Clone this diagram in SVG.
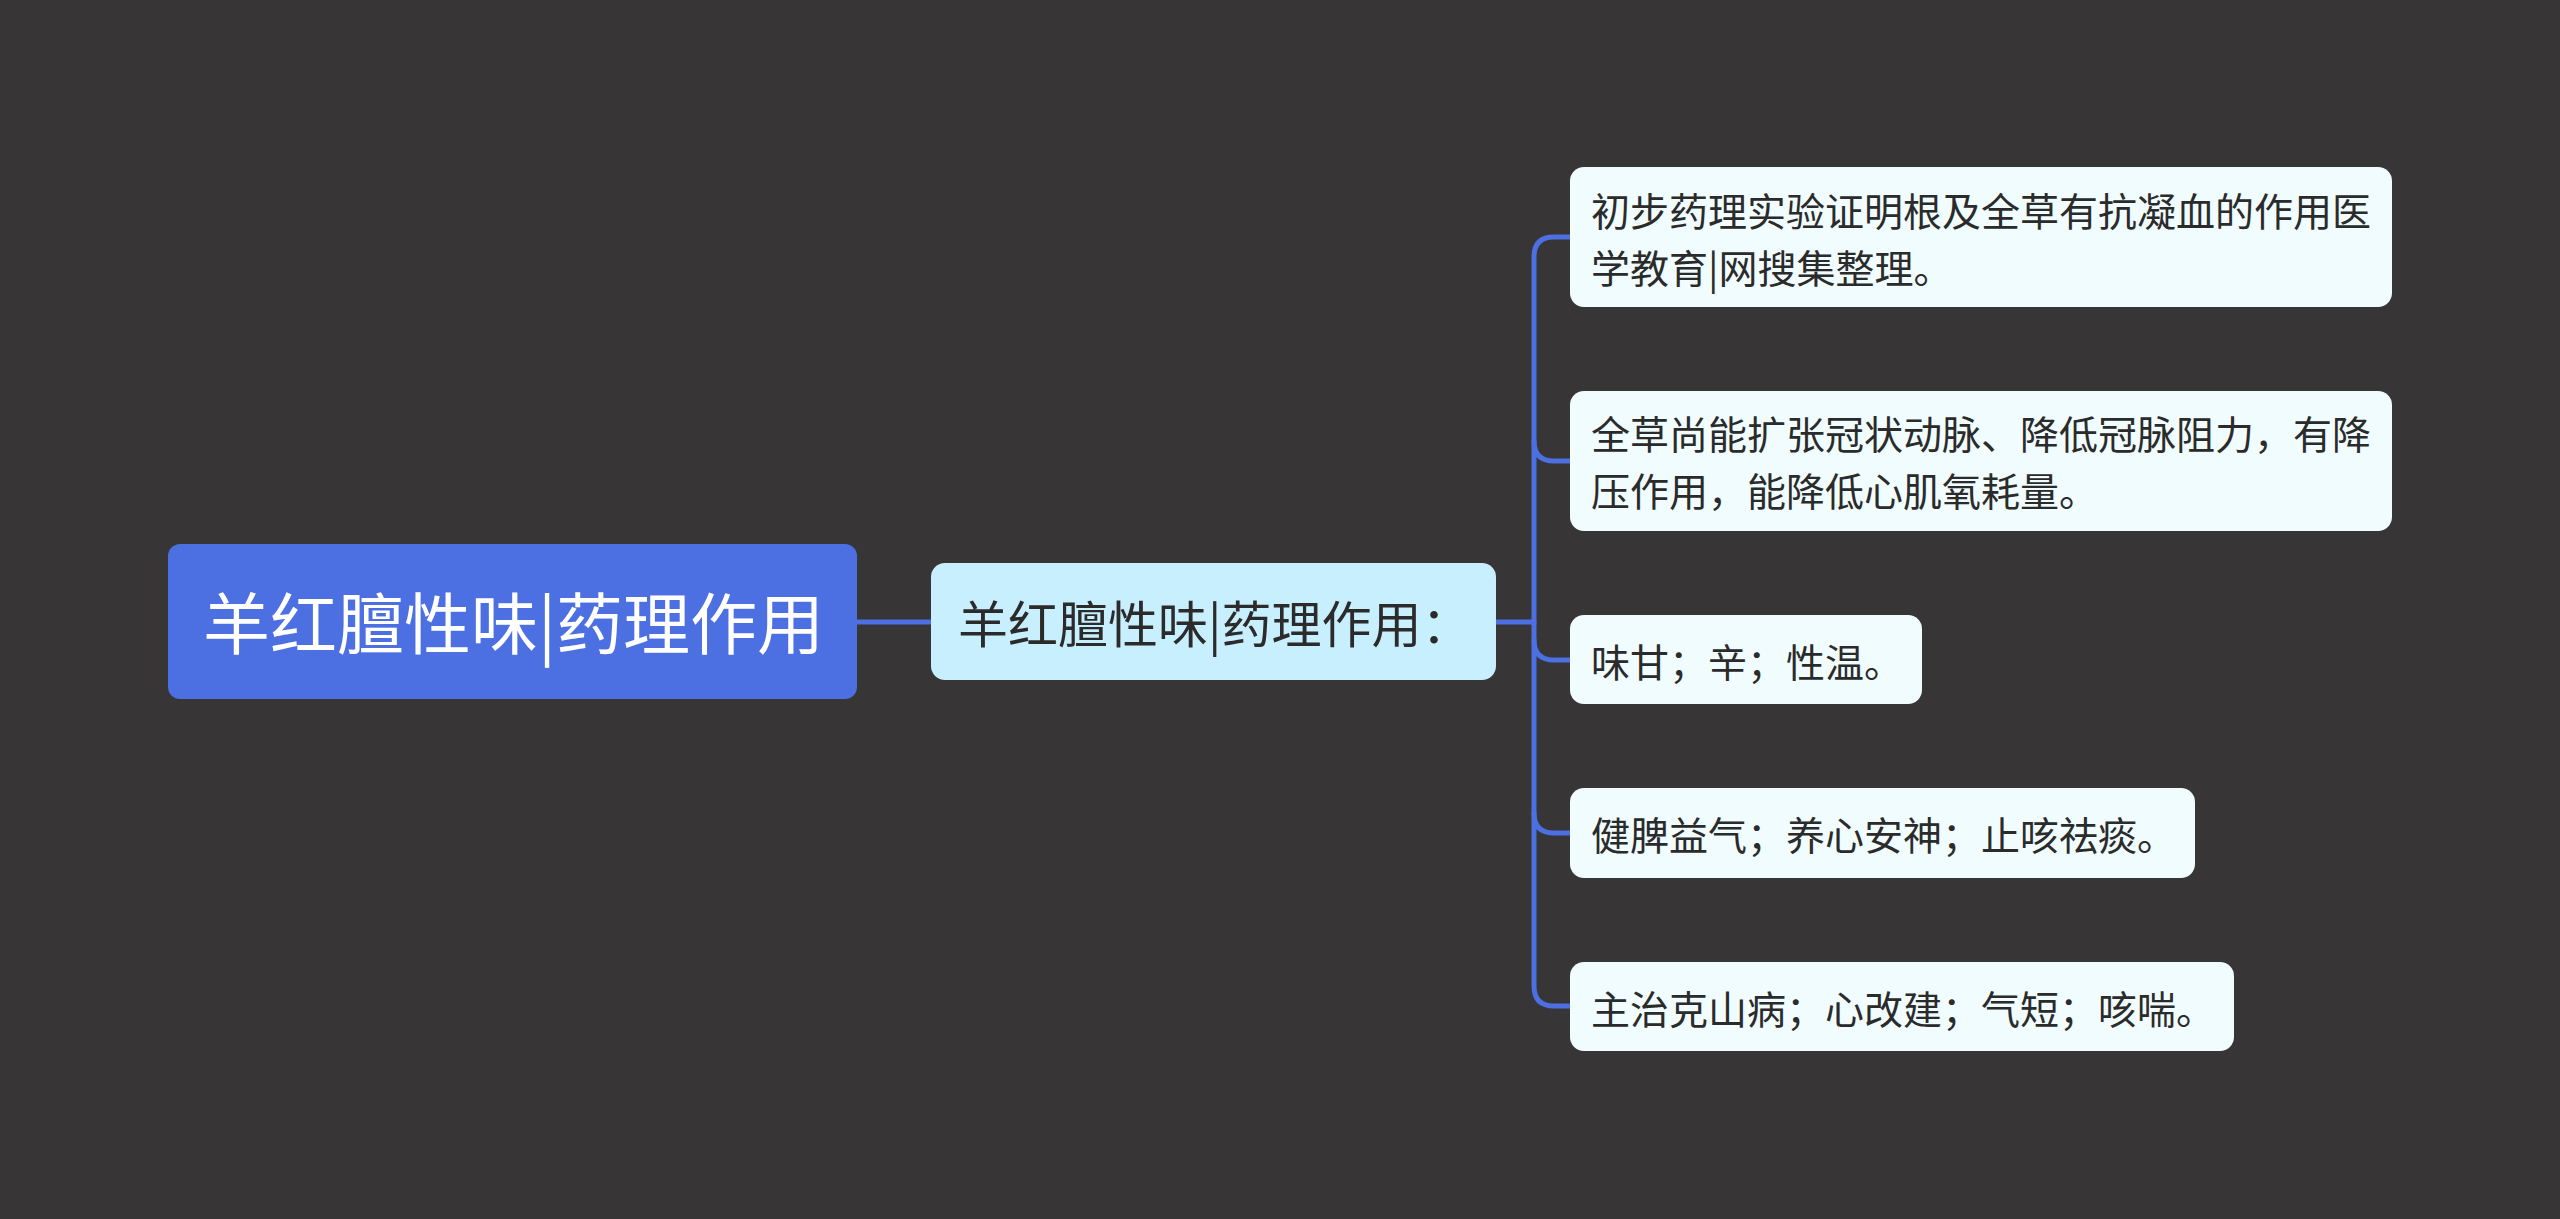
<svg xmlns="http://www.w3.org/2000/svg" width="2560" height="1219" viewBox="0 0 2560 1219">
<style>
.t{font-family:"Noto Sans CJK SC","Noto Sans",sans-serif;}
.leaf{fill:#f0fcfd;}
.lt{font-size:39px;fill:#2b2b2b;}
.c{fill:none;stroke:#4c6fe2;stroke-width:5;stroke-linecap:round;}
</style>
<rect width="2560" height="1219" fill="#373536"/>
<g id="connectors">
<path class="c" d="M857 622H931"/>
<path class="c" d="M1496 622H1534"/>
<path class="c" d="M1570 237H1554Q1534 237 1534 257V986Q1534 1006 1554 1006H1570"/>
<path class="c" d="M1534 441Q1534 461 1554 461H1570"/>
<path class="c" d="M1534 640Q1534 660 1554 660H1570"/>
<path class="c" d="M1534 813Q1534 833 1554 833H1570"/>
</g>
<g id="root">
<rect x="168" y="544" width="689" height="155" rx="12" fill="#4c6fe2"/>
<text class="t" x="203" y="649" font-size="67" fill="#ffffff">羊红膻性味|药理作用</text>
</g>
<g id="middle">
<rect x="931" y="563" width="565" height="117" rx="14" fill="#c8effe"/>
<text class="t" x="958" y="643" font-size="50" fill="#2b2b2b">羊红膻性味|药理作用：</text>
</g>
<g id="leaf1">
<rect class="leaf" x="1570" y="167" width="822" height="140" rx="14"/>
<text class="t lt"><tspan x="1591" y="226">初步药理实验证明根及全草有抗凝血的作用医</tspan><tspan x="1591" y="283">学教育|网搜集整理。</tspan></text>
</g>
<g id="leaf2">
<rect class="leaf" x="1570" y="391" width="822" height="140" rx="14"/>
<text class="t lt"><tspan x="1591" y="449">全草尚能扩张冠状动脉、降低冠脉阻力，有降</tspan><tspan x="1591" y="506">压作用，能降低心肌氧耗量。</tspan></text>
</g>
<g id="leaf3">
<rect class="leaf" x="1570" y="615" width="352" height="89" rx="14"/>
<text class="t lt" x="1591" y="677">味甘；辛；性温。</text>
</g>
<g id="leaf4">
<rect class="leaf" x="1570" y="788" width="625" height="90" rx="14"/>
<text class="t lt" x="1591" y="850">健脾益气；养心安神；止咳祛痰。</text>
</g>
<g id="leaf5">
<rect class="leaf" x="1570" y="962" width="664" height="89" rx="14"/>
<text class="t lt" x="1591" y="1024">主治克山病；心改建；气短；咳喘。</text>
</g>
</svg>
